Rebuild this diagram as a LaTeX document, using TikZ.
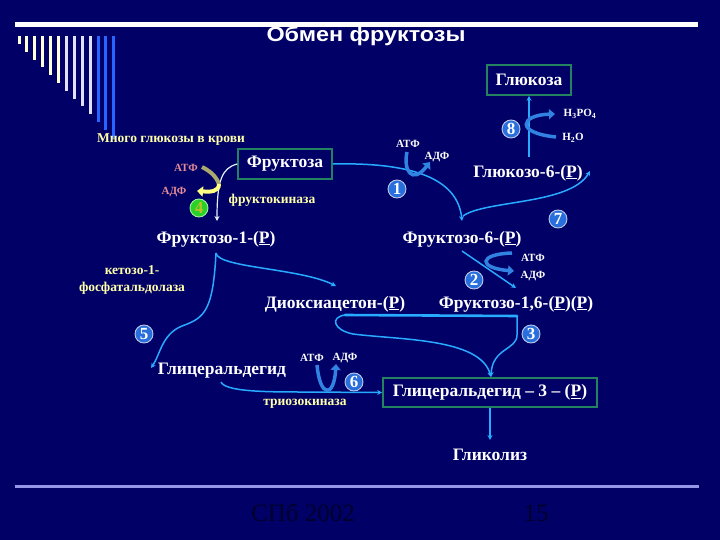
\documentclass[tikz,border=0pt]{standalone}
\usepackage{fontspec}
\setmainfont{Liberation Serif}
\newfontfamily\titlefont{Liberation Sans}
\usetikzlibrary{arrows.meta}
\definecolor{bg}{RGB}{0,0,102}
\definecolor{arrblue}{RGB}{40,170,255}
\definecolor{fatblue}{RGB}{50,130,225}
\definecolor{boxgreen}{RGB}{35,130,95}
\definecolor{yeltext}{RGB}{255,255,170}
\definecolor{pinktext}{RGB}{230,140,150}
\definecolor{numblue}{RGB}{40,110,220}
\definecolor{numedge}{RGB}{190,200,230}
\definecolor{numgreen}{RGB}{40,210,40}
\definecolor{numgedge}{RGB}{160,240,160}
\definecolor{numgtext}{RGB}{190,190,40}
\definecolor{cream}{RGB}{255,255,215}
\definecolor{lav}{RGB}{225,225,255}
\definecolor{barblue}{RGB}{40,100,255}
\definecolor{footc}{RGB}{0,0,45}
\definecolor{botline}{RGB}{150,150,230}
\definecolor{olivec}{RGB}{170,170,110}
\definecolor{yelarr}{RGB}{255,255,130}
\tikzset{
  lbl/.style={text=white, inner sep=1pt, font=\bfseries\fontsize{17.5}{19}\selectfont},
  sm/.style={text=white, inner sep=0.5pt, font=\bfseries\fontsize{11}{12}\selectfont},
  yel/.style={text=yeltext, inner sep=0.5pt, font=\bfseries\fontsize{13.5}{17}\selectfont},
  pinkl/.style={text=pinktext, inner sep=0.5pt, font=\bfseries\fontsize{11}{12}\selectfont},
  box/.style={draw=boxgreen, line width=1.6pt, text=white, inner sep=2pt, font=\bfseries\fontsize{17.5}{19}\selectfont},
  num/.style={circle, fill=numblue, draw=numedge, line width=0.9pt, text=white, inner sep=0pt, minimum size=18pt, font=\bfseries\fontsize{17}{17}\selectfont},
  numg/.style={num, fill=numgreen, draw=numgedge, text=numgtext},
  arr/.style={draw=arrblue, line width=1.5pt, -{Stealth[length=5pt,width=5pt]}},
  arrw/.style={draw=white!85!arrblue, line width=1.2pt, -{Stealth[length=5pt,width=5pt]}},
  fat/.style={draw=fatblue, line width=3.5pt, -{Triangle[length=6pt,width=10pt]}},
  foot/.style={text=footc, inner sep=0pt, font=\fontsize{25}{25}\selectfont},
}
\begin{document}
\begin{tikzpicture}[x=1pt,y=-1pt]
\useasboundingbox (0,0) rectangle (720,540);
\fill[bg] (0,0) rectangle (720,540);
% top rule and decorative bars
\fill[white] (15,22) rectangle (698,27);
\foreach \i in {0,...,12}{
  \pgfmathsetmacro{\bx}{19+7.9*\i}
  \pgfmathsetmacro{\by}{44+7.8*\i}
  \ifnum\i<6 \def\bc{cream}\else\ifnum\i<10 \def\bc{lav}\else\def\bc{barblue}\fi\fi
  \fill[\bc] (\bx-1.5,36) rectangle (\bx+1.5,\by);
}
% title
\node[text=white, anchor=base, inner sep=0pt, font=\titlefont\bfseries\fontsize{20.5}{22}\selectfont] (title) at (366,42) {\scalebox{1.14}[1]{Обмен фруктозы}};
% bottom rule and footer
\fill[botline] (15,485) rectangle (699,487.5);
\node[foot] (city) at (303,513) {СПб 2002};
\node[foot] (page) at (536,513) {15};

% boxes
\node[box, minimum width=94pt, minimum height=30pt] (fruc) at (285,164) {Фруктоза};
\node[box, minimum width=84pt, minimum height=30pt] (gluc) at (529,80) {Глюкоза};
\node[box, minimum width=214pt, minimum height=29pt] (g3p) at (490,392.5) {Глицеральдегид – 3 – (\underline{Р})};

% labels
\node[lbl] (f1p) at (216,239) {Фруктозо-1-(\underline{Р})};
\node[lbl] (f6p) at (462,239) {Фруктозо-6-(\underline{Р})};
\node[lbl] (g6p) at (528,173) {Глюкозо-6-(\underline{Р})};
\node[lbl] (dhap) at (335,304) {Диоксиацетон-(\underline{Р})};
\node[lbl] (f16) at (516,304) {Фруктозо-1,6-(\underline{Р})(\underline{Р})};
\node[lbl] (gald) at (222,371) {Глицеральдегид};
\node[lbl] (glyc) at (490,455) {Гликолиз};

\node[yel] (many) at (171,140) {Много глюкозы в крови};
\node[yel] (fk) at (272,200) {фруктокиназа};
\node[yel, align=center] (kfa) at (132,280) {кетозо-1-\\фосфатальдолаза};
\node[yel] (tk) at (305,404) {триозокиназа};

\node[pinkl] (atp4) at (186,168) {АТФ};
\node[pinkl] (adp4) at (174,192) {АДФ};

\node[sm] (atp1) at (408,144) {АТФ};
\node[sm] (adp1) at (437,157) {АДФ};
\node[sm] (h3po4) at (580,114) {H\textsubscript{3}PO\textsubscript{4}};
\node[sm] (h2o) at (573,138) {H\textsubscript{2}O};
\node[sm] (atp2) at (533,258) {АТФ};
\node[sm] (adp2) at (533,276) {АДФ};
\node[sm] (atp6) at (312,358) {АТФ};
\node[sm] (adp6) at (345,358) {АДФ};

% numbered circles
\node[num] (n1) at (397,189) {1};
\node[num] (n2) at (474,280) {2};
\node[num] (n3) at (531,334) {3};
\node[numg] (n4) at (199,208) {4};
\node[num] (n5) at (144,334) {5};
\node[num] (n6) at (354,382) {6};
\node[num] (n7) at (558,219) {7};
\node[num] (n8) at (511,129) {8};

% connectors
\coordinate (f6pTop) at (462,221);
\coordinate (f6pBase) at (463,216);
\coordinate (g6pEnd) at (590,171);
\coordinate (f1pS) at (216,253);
\coordinate (dhapN) at (336,286);
\coordinate (galdW) at (151,368);
\coordinate (galdS) at (221,382);
\coordinate (f16S) at (517,316);
\coordinate (g3pN) at (491,377);
\coordinate (brL) at (345,315);
\coordinate (f6pS) at (462,251);
\coordinate (f16N) at (516,288);
\coordinate (glycN) at (490,440);
\coordinate (frucDown) at (217,221);

\draw[arr] (fruc.east) .. controls (420,162) and (458,182) .. (f6pTop);
\draw[arr] (f6pBase) .. controls (485,200) and (570,205) .. (g6pEnd);
\draw[arr] (529,157) -- (gluc.south);
\draw[arr] (f6pS) -- (f16N);
\draw[arr] (f1pS) .. controls (218,268) and (300,268) .. (dhapN);
\draw[arr] (f1pS) .. controls (213,310) and (205,318) .. (182,326) .. controls (162,334) and (160,355) .. (galdW);
\draw[arr] (galdS) .. controls (225,391) and (260,392) .. (300,392) -- (g3p.west);
\draw[arr] (g3p.south) -- (glycN);
% aldolase bracket
\draw[draw=arrblue, line width=2.6pt, line cap=round] (f16S) -- (brL);
\draw[arr] (f16S) -- (517,335) .. controls (517,350) and (492,348) .. (g3pN);
\draw[arr] (brL) .. controls (330,317) and (333,330) .. (353,334) .. controls (400,340) and (480,338) .. (g3pN);
% white arrow fructose -> F1P
\draw[arrw] (fruc.west) .. controls (222,168) and (217,180) .. (frucDown);

% fat reaction arrows
\draw[line width=4pt, draw=olivec] (202,167) .. controls (210,171) and (216,176) .. (219,184);
\draw[line width=4pt, draw=yelarr, -{Triangle[length=6pt,width=10pt]}] (219,184) .. controls (219,192) and (210,192) .. (197,191);
\draw[fat] (407,152) .. controls (403,170) and (412,185) .. (430,162);
\draw[fat] (556,137) .. controls (515,133) and (520,115) .. (555,114);
\draw[fat] (512,253) .. controls (478,254) and (478,268) .. (514,271);
\draw[fat] (317,365) .. controls (320,398) and (334,398) .. (336,364);
\end{tikzpicture}
\end{document}
